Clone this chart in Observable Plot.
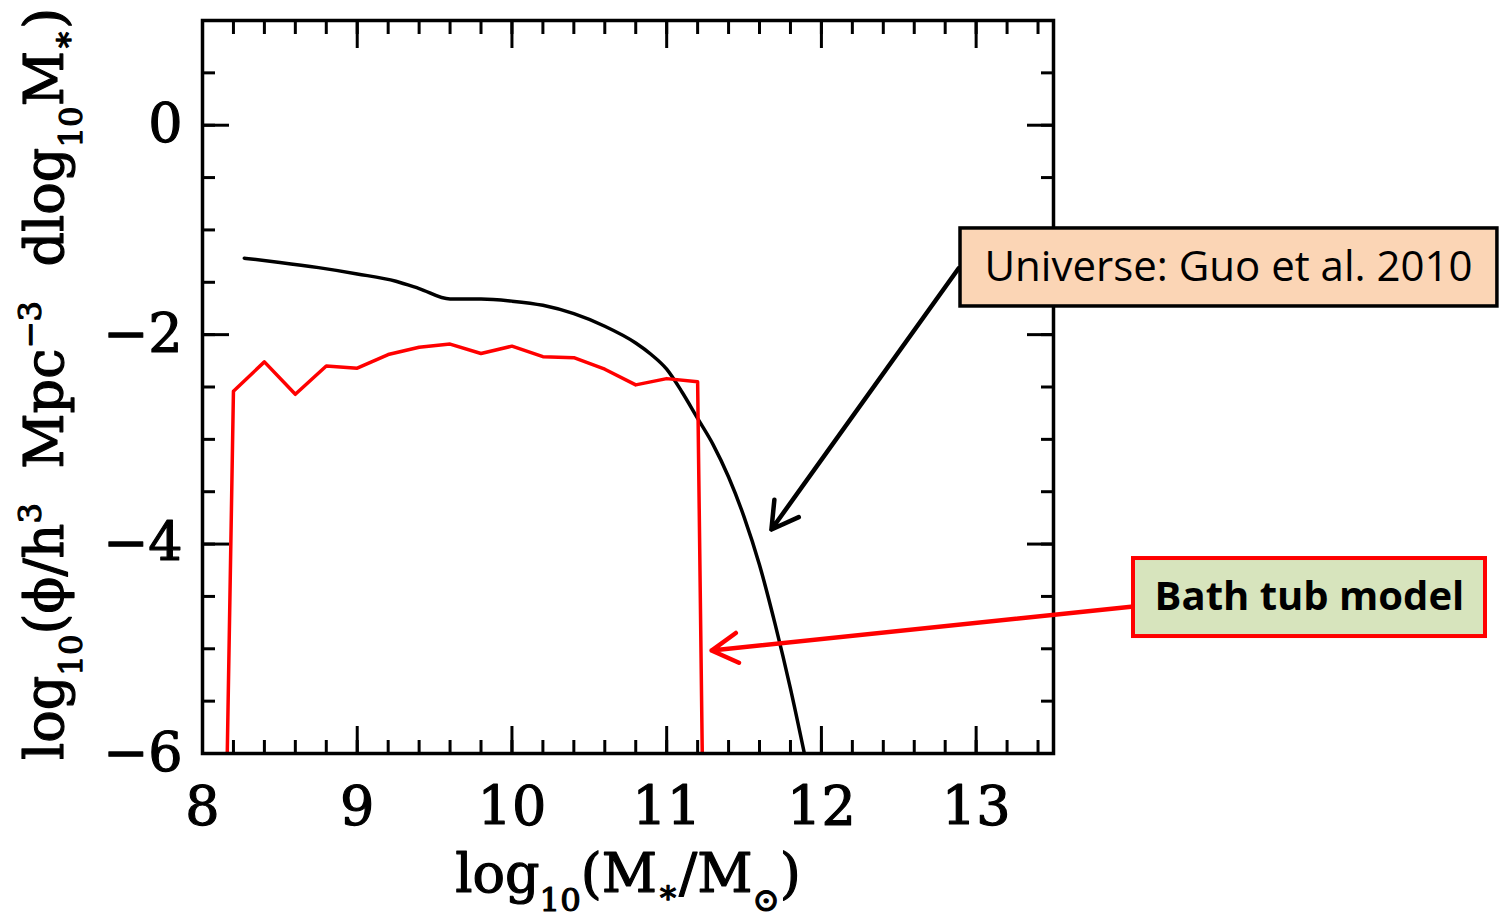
<!DOCTYPE html>
<html>
<head>
<meta charset="utf-8">
<script src="https://cdn.jsdelivr.net/npm/d3@7"></script>
<script src="https://cdn.jsdelivr.net/npm/@observablehq/plot@0.6"></script>
<style>
  html, body { margin: 0; padding: 0; background: #fff; overflow: hidden; }
</style>
</head>
<body>
<div id="chart"></div>
<script>
// Stellar mass function: Guo et al. (2010) fit vs. the bath tub model
const guoMass = [8.27, 8.5, 8.75, 9.0, 9.25, 9.4, 9.6, 9.8, 10.0, 10.2, 10.4, 10.6, 10.8, 10.9, 11.0, 11.1, 11.2, 11.3, 11.4, 11.5, 11.6, 11.7, 11.8, 11.89];
const guoPhi  = [-1.27, -1.31, -1.36, -1.42, -1.49, -1.56, -1.66, -1.66, -1.68, -1.72, -1.80, -1.92, -2.08, -2.19, -2.33, -2.55, -2.80, -3.05, -3.36, -3.74, -4.20, -4.76, -5.38, -6.0];

const bathMass = [8.16, 8.2, 8.4, 8.6, 8.8, 9.0, 9.2, 9.4, 9.6, 9.8, 10.0, 10.2, 10.4, 10.6, 10.8, 11.0, 11.2, 11.23];
const bathPhi  = [-6.0, -2.54, -2.26, -2.57, -2.30, -2.32, -2.19, -2.12, -2.09, -2.18, -2.11, -2.21, -2.22, -2.33, -2.48, -2.42, -2.45, -6.0];

// axis ticks and labels
const xTickLabels = [8, 9, 10, 11, 12, 13];
const yTickLabels = [-6, -4, -2, 0];
const xMinorTicks = d3.range(0, 28).map(i => +(8 + i * 0.2).toFixed(1));
const yMinorTicks = d3.range(0, 15).map(i => -6 + i * 0.5);
const xTitle = "log_{10}(M_{∗}/M_{⊙})";
const yTitle = "log_{10}(ϕ/h^{3}\u00a0 Mpc^{−3}\u00a0 dlog_{10}M_{∗})";

// callouts (in data units)
const calloutText  = ["Universe: Guo et al. 2010", "Bath tub model"];
const calloutBoxes = [
  {x1: 12.899, x2: 16.369, y1: -0.986, y2: -1.731},
  {x1: 14.017, x2: 16.292, y1: -4.138, y2: -4.883}
];
const calloutAnchors = [{x: 14.631, y: -1.359}, {x: 15.154, y: -4.510}];
const calloutArrows = [
  {x1: 12.886, y1: -1.368, x2: 11.677, y2: -3.861},
  {x1: 14.017, y1: -4.596, x2: 11.290, y2: -5.017}
];

const guo  = guoMass.map((m, i) => ({m, phi: guoPhi[i]}));
const bath = bathMass.map((m, i) => ({m, phi: bathPhi[i]}));

const serif = "DejaVu Serif";
const tickFont = 54;
const titleFont = 54;
const fmt = d => (d < 0 ? "\u2212" + Math.abs(d) : String(d));

const inward = (axis, anchor, ticks, size) =>
  axis({anchor, ticks, tickSize: -size, strokeWidth: 3, stroke: "black", fill: "none", label: null});

const chart = Plot.plot({
  width: 1502,
  height: 919,
  marginLeft: 202,
  marginRight: 449,
  marginTop: 20,
  marginBottom: 166,
  x: {domain: [8, 13.5], label: null},
  y: {domain: [-6, 1], label: null},
  style: {background: "white", color: "black"},
  marks: [
    // inward minor / major ticks on all four sides
    inward(Plot.axisX, "bottom", xMinorTicks, 13),
    inward(Plot.axisX, "bottom", xTickLabels, 27),
    inward(Plot.axisX, "top", xMinorTicks, 13),
    inward(Plot.axisX, "top", xTickLabels, 27),
    inward(Plot.axisY, "left", yMinorTicks, 13),
    inward(Plot.axisY, "left", yTickLabels, 27),
    inward(Plot.axisY, "right", yMinorTicks, 13),
    inward(Plot.axisY, "right", yTickLabels, 27),
    // tick labels
    Plot.axisX({anchor: "bottom", ticks: xTickLabels, tickSize: 0, tickPadding: 33, tickFormat: fmt,
      fontSize: tickFont, fontFamily: serif, fill: "black", textStroke: "black", textStrokeWidth: 1.2, label: null}),
    Plot.axisY({anchor: "left", ticks: yTickLabels, tickSize: 0, tickPadding: 20, tickFormat: fmt,
      fontSize: tickFont, fontFamily: serif, fill: "black", textStroke: "black", textStrokeWidth: 1.2, label: null}),
    // curves
    Plot.line(guo, {x: "m", y: "phi", stroke: "black", strokeWidth: 3.5, curve: "monotone-x", clip: true}),
    Plot.line(bath, {x: "m", y: "phi", stroke: "#ff0000", strokeWidth: 3.5, clip: true}),
    Plot.frame({stroke: "black", strokeWidth: 3.5}),
    // axis titles
    Plot.text([xTitle], {frameAnchor: "bottom", textAnchor: "middle", lineAnchor: "middle", dy: 121.7,
      text: d => d, fontSize: titleFont, fontFamily: serif, fill: "black", stroke: "black", strokeWidth: 1.2}),
    Plot.text([yTitle], {frameAnchor: "left", textAnchor: "middle", lineAnchor: "middle", dx: -156.3, dy: -3, rotate: -90,
      text: d => d, fontSize: titleFont, fontFamily: serif, fill: "black", stroke: "black", strokeWidth: 1.2}),
    // callout arrows
    Plot.arrow([calloutArrows[0]], {x1: "x1", y1: "y1", x2: "x2", y2: "y2", stroke: "black", strokeWidth: 4.5, headLength: 10, headAngle: 60}),
    Plot.arrow([calloutArrows[1]], {x1: "x1", y1: "y1", x2: "x2", y2: "y2", stroke: "#ff0000", strokeWidth: 4.5, headLength: 10, headAngle: 60}),
    // callout boxes
    Plot.rect([calloutBoxes[0]], {x1: "x1", x2: "x2", y1: "y1", y2: "y2", fill: "#fbd5b5", stroke: "black", strokeWidth: 3.5}),
    Plot.rect([calloutBoxes[1]], {x1: "x1", x2: "x2", y1: "y1", y2: "y2", fill: "#d7e4bd", stroke: "#ff0000", strokeWidth: 4}),
    Plot.text([calloutAnchors[0]], {x: "x", y: "y", text: () => calloutText[0], fontSize: 42, fontFamily: "Open Sans", fill: "black"}),
    Plot.text([calloutAnchors[1]], {x: "x", y: "y", text: () => calloutText[1], fontSize: 40, fontWeight: "bold", fontFamily: "Open Sans", fill: "black"})
  ]
});

// Turn _{..} and ^{..} markup in the axis titles into sub/superscript tspans
function richText(svg, size) {
  const ns = "http://www.w3.org/2000/svg";
  svg.querySelectorAll("text").forEach(node => {
    const src = node.textContent;
    if (!/[_^]\{/.test(src)) return;
    const parts = [];
    const re = /([_^])\{([^}]*)\}/g;
    let last = 0, m;
    while ((m = re.exec(src))) {
      if (m.index > last) parts.push({t: src.slice(last, m.index), k: ""});
      parts.push({t: m[2], k: m[1]});
      last = re.lastIndex;
    }
    if (last < src.length) parts.push({t: src.slice(last), k: ""});
    node.textContent = "";
    let shift = 0;
    for (const p of parts) {
      let target = 0;
      if (p.k === "_") target = (p.t === "∗" ? 0.2 : 0.34) * size;
      if (p.k === "^") target = -0.42 * size;
      const ts = document.createElementNS(ns, "tspan");
      ts.setAttribute("dy", (target - shift).toFixed(2));
      if (p.k) ts.setAttribute("font-size", (0.6 * size).toFixed(1));
      ts.textContent = p.t;
      node.appendChild(ts);
      shift = target;
    }
  });
}
richText(chart, titleFont);

document.getElementById("chart").appendChild(chart);
</script>
</body>
</html>
